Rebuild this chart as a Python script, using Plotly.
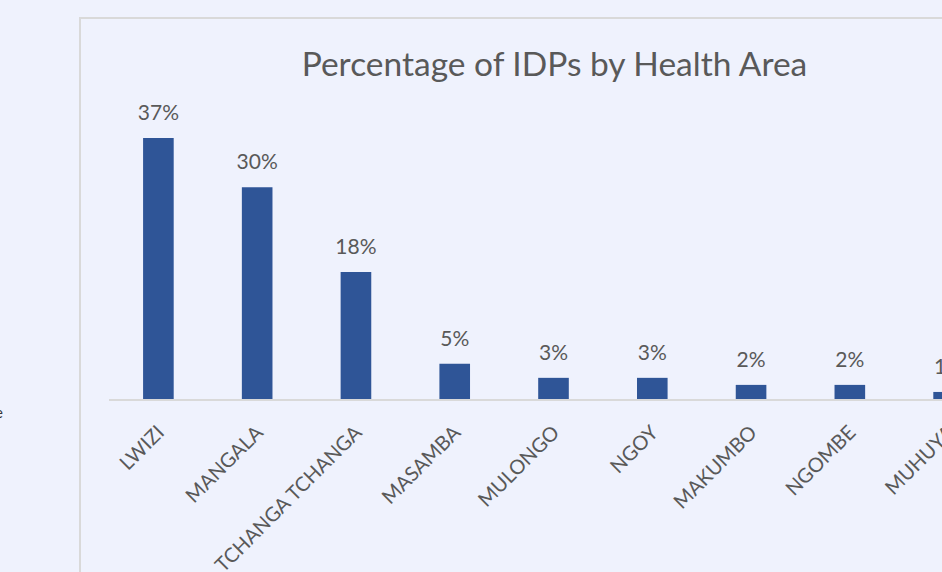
import plotly.graph_objects as go

# ---- data ----
areas = ["LWIZI", "MANGALA", "TCHANGA TCHANGA", "MASAMBA", "MULONGO",
         "NGOY", "MAKUMBO", "NGOMBE", "MUHUYA"]
pct_idps = [37, 30, 18, 5, 3, 3, 2, 2, 1]
title_text = "Percentage of IDPs by Health Area"

# ---- style ----
BG = "#eff2fd"
BAR = "#2f5597"
GRAY_TXT = "#595959"
FONT = "Lato"
W, H = 1030, 572

fig = go.Figure()
fig.add_trace(go.Bar(
    x=areas, y=pct_idps, marker=dict(color=BAR, line=dict(width=0)),
    width=0.31, hoverinfo="skip", showlegend=False,
))
fig.add_trace(go.Scatter(
    x=areas, y=pct_idps, mode="markers+text",
    marker=dict(size=19, color="rgba(0,0,0,0)"),
    text=[f"{v}%" for v in pct_idps], textposition="top center",
    textfont=dict(family=FONT, size=21, color=GRAY_TXT),
    cliponaxis=False, hoverinfo="skip", showlegend=False,
))

fig.update_layout(
    width=W, height=H,
    paper_bgcolor=BG, plot_bgcolor=BG,
    margin=dict(l=109, r=W - 998, t=90, b=H - 399, autoexpand=False),
    bargap=0.69,
    title=dict(text=title_text, x=554.5 / W, xanchor="center",
               y=1 - 64 / H, yanchor="middle", yref="container",
               font=dict(family=FONT, size=33.5, color=GRAY_TXT)),
    xaxis=dict(showgrid=False, zeroline=False, showline=True,
               linecolor="#d9d9d9", linewidth=1.5, ticks="",
               ticklabelstandoff=12, automargin=False,
               tickangle=-45, tickfont=dict(family=FONT, size=20, color=GRAY_TXT),
               range=[-0.5, len(areas) - 0.5], fixedrange=True),
    yaxis=dict(showgrid=False, zeroline=False, showline=False, automargin=False,
               showticklabels=False, range=[0, 43.8], fixedrange=True),
    shapes=[dict(type="rect", xref="paper", yref="paper",
                 x0=(80 - 109) / (998 - 109), x1=(1029 - 109) / (998 - 109),
                 y0=-1.0, y1=(399 - 18) / (399 - 90),
                 line=dict(color="#d9d9d9", width=2), fillcolor="rgba(0,0,0,0)",
                 layer="below")],
    annotations=[dict(text="e", xref="paper", yref="paper",
                      x=(5 - 109) / (998 - 109), y=(399 - 412) / (399 - 90),
                      xanchor="right", yanchor="middle", showarrow=False,
                      font=dict(family=FONT, size=15, color="#333333"))],
)

fig.write_html("out.html", config={"displayModeBar": False},
               post_script="document.body.style.margin='0';document.body.style.overflow='hidden';")
